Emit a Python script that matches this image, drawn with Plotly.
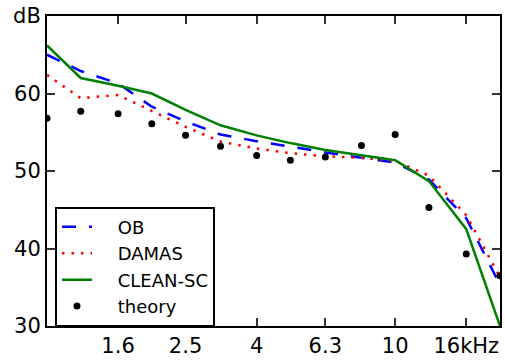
import plotly.graph_objects as go

freqs = [1, 1.25, 1.6, 2, 2.5, 3.15, 4, 5, 6.3, 8, 10, 12.5, 16, 20]
ob = [65.0, 62.9, 61.3, 58.3, 56.4, 54.7, 53.85, 53.1, 52.4, 51.7, 51.1, 48.9, 43.9, 35.3]
damas = [62.4, 59.4, 59.8, 57.8, 55.7, 53.8, 52.9, 52.3, 51.9, 51.7, 51.3, 49.4, 44.3, 36.3]
clean_sc = [66.2, 62.0, 61.0, 60.0, 57.9, 55.9, 54.6, 53.6, 52.7, 52.0, 51.4, 48.7, 42.5, 30.0]
theory = [56.8, 57.7, 57.4, 56.1, 54.6, 53.2, 52.0, 51.4, 51.8, 53.3, 54.7, 45.3, 39.3, 36.5]

series_names = ["OB", "DAMAS", "CLEAN-SC", "theory"]

x_tickvals = [1.6, 2.5, 4, 6.3, 10, 16]
x_ticktext = ["1.6", "2.5", "4", "6.3", "10", "16kHz"]
y_tickvals = [30, 40, 50, 60, 70]
y_ticktext = ["30", "40", "50", "60", "dB"]

FONT = "DejaVu Sans"
PAD = "\u00a0" * 3 + "\u2009"

fig = go.Figure()
fig.add_trace(go.Scatter(x=freqs, y=ob, mode="lines", name=PAD + series_names[0],
                         line=dict(color="#0000ff", width=2.5, dash="14px,13px")))
fig.add_trace(go.Scatter(x=freqs, y=damas, mode="lines", name=PAD + series_names[1],
                         line=dict(color="#ff0000", width=2.5, dash="2.5px,7px")))
fig.add_trace(go.Scatter(x=freqs, y=clean_sc, mode="lines", name=PAD + series_names[2],
                         line=dict(color="#008000", width=2.5)))
fig.add_trace(go.Scatter(x=freqs, y=theory, mode="markers", name=PAD + series_names[3],
                         marker=dict(color="black", size=7)))

axis_common = dict(
    showline=True, linecolor="black", linewidth=2, mirror="ticks",
    ticks="inside", ticklen=8, tickwidth=1.5, tickcolor="#333333",
    showgrid=False, zeroline=False,
    tickfont=dict(family=FONT, size=21, color="black"),
)

fig.update_xaxes(type="log", range=[0, 1.30103], tickmode="array",
                 tickvals=x_tickvals, ticktext=x_ticktext, **axis_common)
fig.update_yaxes(range=[30, 70], tickmode="array",
                 tickvals=y_tickvals, ticktext=y_ticktext, **axis_common)

fig.update_layout(
    width=505, height=361,
    margin=dict(l=47, r=3, t=16, b=32),
    paper_bgcolor="white", plot_bgcolor="white",
    font=dict(family=FONT, color="black"),
    legend=dict(x=0.0176, y=0.385, xanchor="left", yanchor="top",
                bgcolor="white", bordercolor="black", borderwidth=2,
                font=dict(family=FONT, size=18, color="black"),
                itemwidth=30),
    showlegend=True,
)

fig.write_html("out.html")
